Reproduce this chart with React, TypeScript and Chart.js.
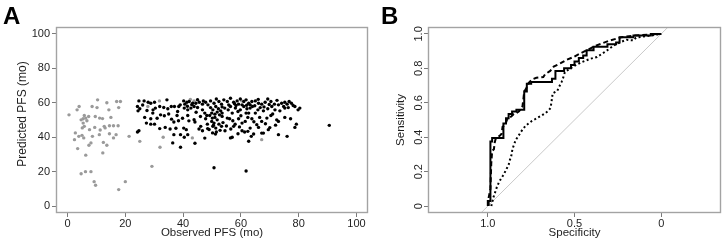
import { useEffect, useRef } from 'react';
import { Chart, registerables } from 'chart.js';

Chart.register(...registerables);

const FONT = "'Liberation Sans', Arial, Helvetica, sans-serif";
const TEXT = '#1e1e1e';
const TICK_COLOR = '#7a7a7a';
const FRAME_COLOR = '#a3a3a3';

// ---- Panel A: observed vs predicted PFS (months) ----
const lightObserved = [
  10.4, 13.6, 17, 18.3, 3.3, 4, 8.5, 10.2, 14.3, 17.7, 0.5, 5.8, 7.3, 9.6, 11.1, 15,
  4.7, 5.4, 6.3, 6.7, 5.4, 5.8, 5.1, 7.6, 9.4, 12.7, 13, 14.5, 15.9, 17.5, 2.7, 3.9,
  2.4, 5, 5.6, 8.6, 11, 14.5, 16.8, 15.9, 21.3, 12.4, 13.6, 8.1, 7.4, 3.5, 12.2, 6.3,
  4.7, 6.2, 8.1, 9.2, 9.7, 20, 17.7, 11.3, 12.1,
  25, 27.8, 29.2, 31.8, 32, 33.1, 43.2, 43.8, 42.5, 56, 60.3, 67.2,
];
const lightPredicted = [
  61.7, 60, 60.7, 60.7, 55.9, 57.8, 57.8, 57.2, 55.9, 57.2, 53, 52.6, 52, 52, 51.1, 51.5,
  50.1, 50.7, 51.1, 49.6, 48.2, 46.3, 45.4, 44.4, 45.7, 46.3, 45.4, 46.7, 46.7, 46.7, 42.5, 40.5,
  38.6, 41.1, 39.6, 40.5, 41.5, 42, 41.5, 39.6, 40.5, 37, 35.3, 36.7, 35.3, 33.4, 30.9, 29.6,
  18.8, 20, 20, 14.2, 12.1, 14.2, 9.6, 44.2, 50.8,
  37.6, 57.8, 23.1, 61.1, 34.2, 40, 39.6, 61.1, 62, 58.2, 61.1, 38.6,
];
const darkObserved = [
  24.7, 26.5, 27.9, 28.8, 30.1, 34.4, 35.9, 37, 38.5, 40.2, 40.6, 41.3, 42.1, 43.3, 44.4, 45.6, 46.7, 47.8, 48.6,
  24.2, 25, 24.4, 29.6, 30.4, 31.9, 33.3, 34.7, 38.1, 40.4, 41.6, 42.7, 43.8, 45, 46.7, 47.5, 48.2,
  26.7, 28.8, 32.2, 37.9, 38.4, 41.6, 43.8, 44.1, 47.8, 48.4,
  27.3, 28.8, 30.1, 31.9, 33.8, 36.8, 40.2, 41.1, 46.1, 46.7,
  24.2, 24.7, 36.8, 39.1, 41.6, 40.4, 36.4, 39.1, 44.1, 47.5,
  49.5, 50.7, 51.5, 52.4, 53.3, 54.1, 55.3, 56.4, 57.5, 58.7, 59.2, 59.8, 61, 61.8, 62.7, 63.2, 63.8,
  65, 66.1, 67.2, 68.4, 69.3, 70.4, 71.6, 73, 74.1,
  49.5, 50.3, 51.3, 52.2, 53, 49.9, 51, 51.8, 52.6, 53.5, 54.4, 55.6, 56.4, 58.1, 59, 59.8, 61,
  62.1, 63.2, 64, 65.9, 66.7, 67.8, 69.3, 70.7, 71.8, 73.5, 62.7, 65, 61.8, 57, 58.3, 60.4,
  49.2, 50.1, 51, 51.8, 49.9, 50.7, 52.4, 53.5, 55.3, 56.1, 57.2, 59.2, 60.4, 62.4, 63.8, 65.5,
  67.2, 69, 70.4, 72.4, 73,
  50.3, 51.3, 51.5, 53.3, 56.4, 57, 57.5, 60.4, 61.3, 62.4, 63.2, 63.6, 64.4, 62.7, 66.1, 67.8,
  69.5, 73, 67.2,
  50.7, 61.8,
  75.2, 76, 76.7, 77.5, 78.1, 78.7, 76.4, 75.2, 79.8, 80.4, 77.2, 75.2, 79.2, 78.7, 76, 90.6,
  50.2, 51.2, 52.8, 50.5, 53.8, 49, 55, 56.5, 58, 59.5, 64.5, 66.5, 68.5, 70, 72, 71, 60, 61.5,
  46, 44.5, 42, 39.8, 36, 35, 33.5, 31, 29.5, 27.5, 26, 39, 41.5, 43, 45, 47, 53.5, 55.8, 57.8,
  62, 64.8, 68, 69.8, 72.5, 74.8, 66, 59, 54.5, 48.5, 45.5, 37.5, 35.5,
];
const darkPredicted = [
  61.1, 61.1, 60.3, 59.7, 60.3, 61.7, 57.8, 57.8, 57.8, 61.1, 59.2, 60.3, 60.7, 59.7, 59.7, 60.3, 59.2, 60.3, 58.8,
  57.8, 56.5, 55.3, 55.9, 56.9, 57.8, 57.3, 56.5, 54.9, 56.9, 55.9, 56.9, 57.8, 57.3, 55.9, 54, 52.6,
  51.5, 50.7, 53, 52.6, 49.6, 52.6, 50.2, 48.8, 50.7, 47.6,
  48.2, 47.6, 47.6, 45, 45.7, 48.8, 45.3, 44.4, 46.3, 43.8,
  43, 43.8, 41.5, 41.5, 41.5, 40, 36.7, 34.2, 36.5, 39.5,
  61.1, 59.7, 62.2, 60.7, 59.2, 61.7, 60.7, 62.6, 60.3, 61.1, 59.2, 62.2, 60.7, 61.7, 59.7, 58.8, 60.7,
  61.1, 59.7, 59.2, 60.3, 62.2, 60.7, 59.2, 58.8, 59.7,
  57.2, 55.9, 57.8, 56.5, 55.3, 54, 53.4, 54.6, 53, 54, 56.9, 55.9, 57.8, 56.9, 54.9, 55.9, 57.8,
  56.5, 56.9, 57.8, 55.9, 57.2, 55.3, 56.5, 57.8, 55.9, 55.3, 54, 54, 54, 54, 58.4, 58.8,
  52.6, 51.1, 51.5, 50.1, 49.2, 48.2, 47.6, 52.1, 51.1, 50.7, 49.6, 50.7, 48.2, 51.5, 50.7, 47.3,
  49.2, 51.1, 52.6, 50.1, 49.2,
  46.3, 45.3, 43, 46.3, 39.6, 40, 46.3, 43.8, 43, 43.4, 45.3, 40.5, 41.9, 37.7, 45.7, 42.4,
  44.4, 41.5, 42.4,
  22.3, 20.4,
  60.3, 59.2, 60.7, 59.7, 58.4, 57.8, 57.2, 56.9, 55.9, 56.9, 50.7, 51.5, 47.6, 45.7, 40.5, 46.9,
  42.5, 41.8, 44, 47, 48.5, 44.5, 46.5, 44.8, 47.5, 46, 49, 51.5, 47.8, 45.6, 47, 53.5, 52.5, 49.2,
  52, 54.5, 49.5, 51, 50.5, 53.5, 52.5, 51, 54, 55.5, 58.7, 58.8, 58, 58.9, 61.8, 61, 57.6, 58.8, 59.5,
  58.6, 58.3, 57.6, 59, 61.4, 57.8, 62, 42, 43.8, 45, 44.8, 45.2, 44.8,
];
const pfsTicks = [0, 20, 40, 60, 80, 100];

// ---- Panel B: ROC curves (specificity, sensitivity) ----
const solidSpecificity = [
  1.0, 1.0, 0.985, 0.985, 0.975, 0.975, 0.91, 0.91, 0.895, 0.895, 0.88, 0.88, 0.86, 0.86,
  0.835, 0.835, 0.79, 0.79, 0.775, 0.775, 0.75, 0.75, 0.63, 0.63, 0.61, 0.61, 0.56, 0.56,
  0.52, 0.52, 0.5, 0.5, 0.475, 0.475, 0.45, 0.45, 0.43, 0.43, 0.39, 0.39, 0.31, 0.31,
  0.26, 0.26, 0.24, 0.24, 0.16, 0.16, 0.06, 0.06, 0.0,
];
const solidSensitivity = [
  0.0, 0.03, 0.03, 0.375, 0.375, 0.395, 0.395, 0.48, 0.48, 0.51, 0.51, 0.535, 0.535, 0.55,
  0.55, 0.56, 0.56, 0.665, 0.665, 0.71, 0.71, 0.72, 0.72, 0.74, 0.74, 0.785, 0.785, 0.8,
  0.8, 0.82, 0.82, 0.84, 0.84, 0.86, 0.86, 0.875, 0.875, 0.905, 0.905, 0.925, 0.925, 0.94,
  0.94, 0.95, 0.95, 0.98, 0.98, 0.99, 0.99, 1.0, 1.0,
];
const dashedSpecificity = [
  0.995, 0.995, 0.985, 0.98, 0.975, 0.965, 0.96, 0.955, 0.93, 0.92, 0.915, 0.9, 0.89, 0.88,
  0.865, 0.85, 0.835, 0.82, 0.81, 0.8, 0.795, 0.79, 0.775, 0.765, 0.745, 0.72, 0.68, 0.67,
  0.64, 0.62, 0.58, 0.545, 0.505, 0.47, 0.44, 0.41, 0.38, 0.35, 0.3, 0.25, 0.23, 0.16, 0.08, 0.0,
];
const dashedSensitivity = [
  0.0, 0.05, 0.1, 0.25, 0.32, 0.33, 0.37, 0.39, 0.41, 0.42, 0.46, 0.47, 0.5, 0.51,
  0.52, 0.535, 0.54, 0.55, 0.565, 0.58, 0.62, 0.665, 0.69, 0.715, 0.735, 0.745, 0.75, 0.765,
  0.785, 0.81, 0.83, 0.85, 0.866, 0.885, 0.9, 0.915, 0.93, 0.942, 0.96, 0.975, 0.98, 0.99, 0.995, 1.0,
];
const dottedSpecificity = [
  0.98, 0.975, 0.968, 0.958, 0.948, 0.935, 0.92, 0.91, 0.9, 0.89, 0.88, 0.872, 0.865, 0.858,
  0.848, 0.838, 0.825, 0.81, 0.794, 0.78, 0.765, 0.745, 0.727, 0.71, 0.69, 0.668, 0.65, 0.638,
  0.632, 0.626, 0.6, 0.585, 0.575, 0.567, 0.555, 0.53, 0.5, 0.46, 0.41, 0.37, 0.35, 0.315,
  0.275, 0.24, 0.2, 0.16, 0.145, 0.1, 0.06, 0.0,
];
const dottedSensitivity = [
  0.0, 0.02, 0.05, 0.08, 0.11, 0.14, 0.166, 0.18, 0.2, 0.22, 0.24, 0.27, 0.29, 0.33,
  0.36, 0.386, 0.405, 0.43, 0.452, 0.468, 0.48, 0.495, 0.505, 0.515, 0.526, 0.54, 0.555, 0.57,
  0.61, 0.655, 0.668, 0.7, 0.72, 0.74, 0.78, 0.795, 0.815, 0.835, 0.855, 0.866, 0.879, 0.902,
  0.932, 0.95, 0.966, 0.962, 0.978, 0.985, 0.99, 1.0,
];
const chanceSpecificity = [1.5, -0.5];
const chanceSensitivity = [-0.5, 1.5];
const specificityTicks = [0, 0.5, 1];
const specificityLabels = ['0', '0.5', '1.0'];
const sensitivityTicks = [0, 0.2, 0.4, 0.6, 0.8, 1];
const sensitivityLabels = ['0', '0.2', '0.4', '0.6', '0.8', '1.0'];

const zip = (xs: number[], ys: number[]) => xs.map((x, i) => ({ x, y: ys[i] }));

// Draws the frame, panel letter, axis titles and (optionally) rotated y tick labels.
const panelDecor = {
  id: 'panelDecor',
  afterDraw(chart: any, _args: any, opts: any) {
    const { ctx, chartArea: a } = chart;
    ctx.save();
    ctx.strokeStyle = FRAME_COLOR;
    ctx.lineWidth = 1.4;
    ctx.strokeRect(a.left + 0.5, a.top + 0.5, a.right - a.left - 1, a.bottom - a.top - 1);

    ctx.fillStyle = '#000';
    ctx.font = `bold 24px ${FONT}`;
    ctx.textAlign = 'left';
    ctx.textBaseline = 'alphabetic';
    ctx.fillText(opts.letter, opts.letterX, 24);

    ctx.fillStyle = TEXT;
    ctx.font = `${opts.xTitleSize}px ${FONT}`;
    ctx.textAlign = 'center';
    ctx.textBaseline = 'middle';
    ctx.fillText(opts.xTitle, (a.left + a.right) / 2, opts.xTitleY);

    ctx.save();
    ctx.font = `${opts.yTitleSize}px ${FONT}`;
    ctx.translate(opts.yTitleX, opts.yTitleY);
    ctx.rotate(-Math.PI / 2);
    ctx.fillText(opts.yTitle, 0, 0);
    ctx.restore();

    if (opts.yTickLabels) {
      const ys = chart.scales.y;
      ctx.font = `11px ${FONT}`;
      ctx.textAlign = 'center';
      ctx.textBaseline = 'alphabetic';
      ys.ticks.forEach((t: any, i: number) => {
        const py = ys.getPixelForValue(t.value);
        ctx.save();
        ctx.translate(a.left - 6, py);
        ctx.rotate(-Math.PI / 2);
        ctx.fillText(opts.yTickLabels[i], 0, 0);
        ctx.restore();
      });
    }
    ctx.restore();
  },
};

const axisGrid = { drawOnChartArea: false, drawTicks: true, tickLength: 4, color: TICK_COLOR, lineWidth: 1 };
const tickFont = { family: FONT, size: 11 };

function scatterConfig(): any {
  return {
    type: 'scatter',
    data: {
      datasets: [
        { data: zip(darkObserved, darkPredicted), backgroundColor: '#000', pointRadius: 1.7, borderWidth: 0 },
        { data: zip(lightObserved, lightPredicted), backgroundColor: '#9a9a9a', pointRadius: 1.7, borderWidth: 0 },
      ],
    },
    options: {
      animation: false,
      responsive: false,
      events: [],
      layout: { padding: { top: 27, right: 2, left: 0, bottom: 0 } },
      plugins: {
        legend: { display: false },
        tooltip: { enabled: false },
        panelDecor: {
          letter: 'A', letterX: 3,
          xTitle: 'Observed PFS (mo)', xTitleY: 233, xTitleSize: 11.5,
          yTitle: 'Predicted PFS (mo)', yTitleX: 23, yTitleY: 114, yTitleSize: 12,
        },
      },
      scales: {
        x: {
          type: 'linear', min: -4, max: 104,
          afterBuildTicks: (s: any) => { s.ticks = pfsTicks.map((v) => ({ value: v })); },
          afterFit: (s: any) => { s.height = 38; },
          grid: axisGrid, border: { display: false },
          ticks: { font: tickFont, color: TEXT, padding: 0, maxRotation: 0, minRotation: 0, autoSkip: false },
        },
        y: {
          type: 'linear', min: -4, max: 104,
          afterBuildTicks: (s: any) => { s.ticks = pfsTicks.map((v) => ({ value: v })); },
          afterFit: (s: any) => { s.width = 56; },
          grid: axisGrid, border: { display: false },
          ticks: { font: tickFont, color: TEXT, padding: 2, autoSkip: false },
        },
      },
    },
    plugins: [panelDecor],
  };
}

function rocConfig(): any {
  const line = { showLine: true, pointRadius: 0, borderColor: '#000', borderWidth: 2, fill: false, tension: 0 };
  return {
    type: 'scatter',
    data: {
      datasets: [
        { ...line, data: zip(solidSpecificity, solidSensitivity) },
        { ...line, data: zip(dashedSpecificity, dashedSensitivity), borderDash: [5, 3] },
        { ...line, data: zip(dottedSpecificity, dottedSensitivity), borderDash: [2, 2.5] },
        { ...line, data: zip(chanceSpecificity, chanceSensitivity), borderColor: '#c9c9c9', borderWidth: 1 },
      ],
    },
    options: {
      animation: false,
      responsive: false,
      events: [],
      layout: { padding: { top: 27, right: 4, left: 0, bottom: 0 } },
      plugins: {
        legend: { display: false },
        tooltip: { enabled: false },
        panelDecor: {
          letter: 'B', letterX: 9,
          xTitle: 'Specificity', xTitleY: 233, xTitleSize: 11.5,
          yTitle: 'Sensitivity', yTitleX: 29, yTitleY: 120, yTitleSize: 11.5,
          yTickLabels: sensitivityLabels,
        },
      },
      scales: {
        x: {
          type: 'linear', min: -0.345, max: 1.345, reverse: true,
          afterBuildTicks: (s: any) => { s.ticks = specificityTicks.map((v) => ({ value: v })); },
          afterFit: (s: any) => { s.height = 38; },
          grid: axisGrid, border: { display: false },
          ticks: {
            font: tickFont, color: TEXT, padding: 0, maxRotation: 0, minRotation: 0, autoSkip: false,
            callback: (v: number) => specificityLabels[specificityTicks.indexOf(v)] ?? '',
          },
        },
        y: {
          type: 'linear', min: -0.04, max: 1.04,
          afterBuildTicks: (s: any) => { s.ticks = sensitivityTicks.map((v) => ({ value: v })); },
          afterFit: (s: any) => { s.width = 56; },
          grid: axisGrid, border: { display: false },
          ticks: { display: false },
        },
      },
    },
    plugins: [panelDecor],
  };
}

export default function App() {
  const refA = useRef<HTMLCanvasElement>(null);
  const refB = useRef<HTMLCanvasElement>(null);

  useEffect(() => {
    const a = new Chart(refA.current!, scatterConfig());
    const b = new Chart(refB.current!, rocConfig());
    return () => {
      a.destroy();
      b.destroy();
    };
  }, []);

  return (
    <div style={{ position: 'fixed', left: 0, top: 0, width: 725, height: 251, background: '#fff' }}>
      <canvas ref={refA} width={372} height={251}
        style={{ position: 'absolute', left: 0, top: 0, width: 372, height: 251 }} />
      <canvas ref={refB} width={353} height={251}
        style={{ position: 'absolute', left: 372, top: 0, width: 353, height: 251 }} />
    </div>
  );
}
